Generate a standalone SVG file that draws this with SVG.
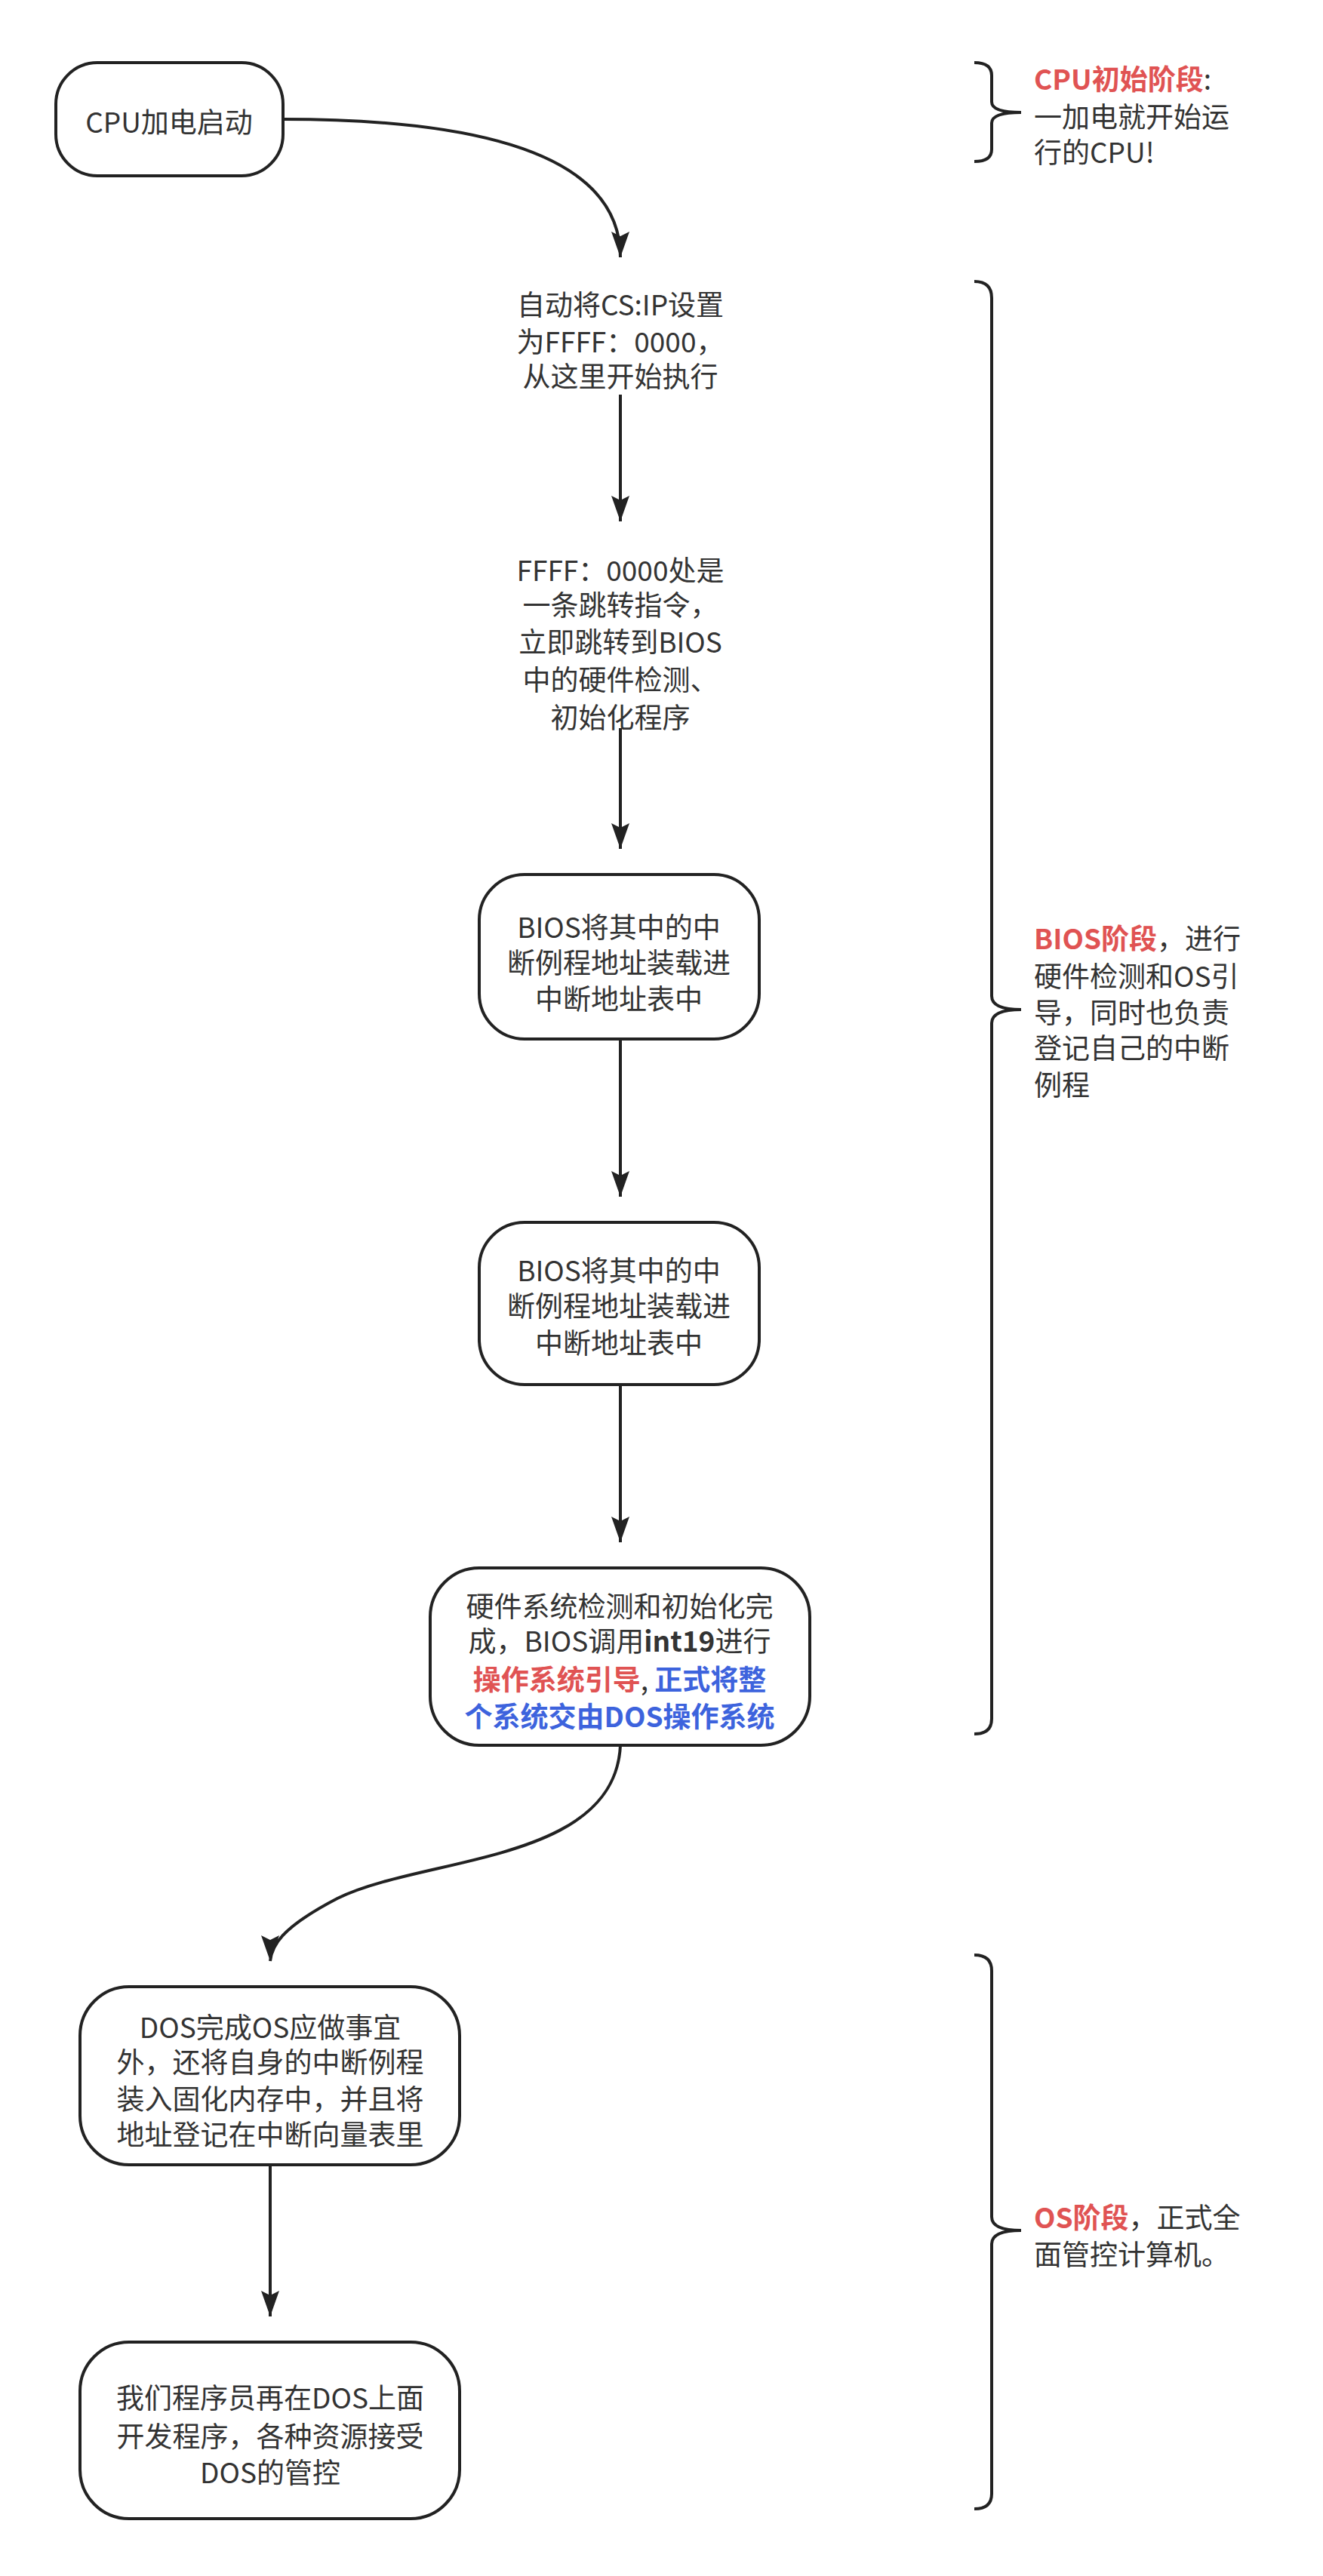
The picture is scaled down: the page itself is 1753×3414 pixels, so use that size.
<svg xmlns="http://www.w3.org/2000/svg" width="1753" height="3414" viewBox="0 0 1753 3414">
<style>
text{font-family:"Noto Sans CJK SC","Liberation Sans",sans-serif;font-size:37px;fill:#333;text-anchor:middle;dominant-baseline:central}
.l{text-anchor:start}
.n{fill:#fff;stroke:#222;stroke-width:4}
.c{fill:none;stroke:#222;stroke-width:4}
.r{fill:#E05353;font-weight:bold}
.b{fill:#3D63DD;font-weight:bold}
.k{font-weight:bold}
</style>
<defs><marker id="a" markerWidth="12" markerHeight="14" refX="6" refY="13" orient="auto-start-reverse" markerUnits="userSpaceOnUse" viewBox="0 0 12 14"><path d="M0,0 L6,3 L12,0 L6,14 Z" fill="#222" transform="rotate(0)"/></marker>
<marker id="v" markerWidth="24" markerHeight="34" refX="12" refY="34" orient="0" markerUnits="userSpaceOnUse"><path d="M0,0 L12,6 L24,0 L12,34 Z" fill="#222"/></marker></defs>
<rect width="1753" height="3414" fill="#fff"/>
<g id="connectors">
<path class="c" d="M375,158 C700,158 822,230 822,341" marker-end="url(#v)"/>
<path class="c" d="M822,523 L822,691" marker-end="url(#v)"/>
<path class="c" d="M822,965 L822,1125" marker-end="url(#v)"/>
<path class="c" d="M822,1377 L822,1586" marker-end="url(#v)"/>
<path class="c" d="M822,1835 L822,2044" marker-end="url(#v)"/>
<path class="c" d="M822,2313 C815,2470 560,2460 447,2516 C370,2556 360,2580 358,2599" marker-end="url(#v)"/>
<path class="c" d="M358,2869 L358,3070" marker-end="url(#v)"/>
</g>
<g id="n1"><rect class="n" x="74" y="83" width="301" height="150" rx="55"/><text x="224" y="160">CPU加电启动</text></g>
<g id="n2"><text x="822" y="402">自动将CS:IP设置</text><text x="822" y="451">为FFFF：0000，</text><text x="822" y="497">从这里开始执行</text></g>
<g id="n3"><text x="822" y="754">FFFF：0000处是</text><text x="822" y="800">一条跳转指令，</text><text x="822" y="849">立即跳转到BIOS</text><text x="822" y="899">中的硬件检测、</text><text x="822" y="949">初始化程序</text></g>
<g id="n4"><rect class="n" x="635" y="1159" width="371" height="218" rx="60"/><text x="820" y="1227">BIOS将其中的中</text><text x="820" y="1274">断例程地址装载进</text><text x="820" y="1322">中断地址表中</text></g>
<g id="n5"><rect class="n" x="635" y="1620" width="371" height="215" rx="60"/><text x="820" y="1682">BIOS将其中的中</text><text x="820" y="1729">断例程地址装载进</text><text x="820" y="1778">中断地址表中</text></g>
<g id="n6"><rect class="n" x="570" y="2078" width="503" height="235" rx="65"/><text x="821" y="2127">硬件系统检测和初始化完</text><text x="821" y="2173">成，BIOS调用<tspan class="k">int19</tspan>进行</text><text x="821" y="2224"><tspan class="r">操作系统引导</tspan>, <tspan class="b">正式将整</tspan></text><text x="821" y="2273" class="b">个系统交由DOS操作系统</text></g>
<g id="n7"><rect class="n" x="106" y="2633" width="503" height="236" rx="65"/><text x="358" y="2685">DOS完成OS应做事宜</text><text x="358" y="2731">外，还将自身的中断例程</text><text x="358" y="2780">装入固化内存中，并且将</text><text x="358" y="2827">地址登记在中断向量表里</text></g>
<g id="n8"><rect class="n" x="106" y="3104" width="503" height="234" rx="65"/><text x="358" y="3176">我们程序员再在DOS上面</text><text x="358" y="3227">开发程序，各种资源接受</text><text x="358" y="3275">DOS的管控</text></g>
<g id="b1"><path class="c" d="M1291,83 Q1314,83 1314,100 L1314,135 Q1314,149 1353,149 Q1314,149 1314,163 L1314,198 Q1314,214 1291,214"/>
<text class="l" x="1370" y="103"><tspan class="r">CPU初始阶段</tspan>:</text><text class="l" x="1370" y="153">一加电就开始运</text><text class="l" x="1370" y="200">行的CPU!</text></g>
<g id="b2"><path class="c" d="M1291,373 Q1314,373 1314,395 L1314,1320 Q1314,1338 1353,1338 Q1314,1338 1314,1356 L1314,2278 Q1314,2298 1291,2298"/>
<text class="l" x="1370" y="1242"><tspan class="r">BIOS阶段</tspan>，进行</text><text class="l" x="1370" y="1292">硬件检测和OS引</text><text class="l" x="1370" y="1340">导，同时也负责</text><text class="l" x="1370" y="1387">登记自己的中断</text><text class="l" x="1370" y="1436">例程</text></g>
<g id="b3"><path class="c" d="M1291,2591 Q1314,2591 1314,2612 L1314,2938 Q1314,2956 1353,2956 Q1314,2956 1314,2974 L1314,3305 Q1314,3325 1291,3325"/>
<text class="l" x="1370" y="2937"><tspan class="r">OS阶段</tspan>，正式全</text><text class="l" x="1370" y="2986">面管控计算机。</text></g>
</svg>
